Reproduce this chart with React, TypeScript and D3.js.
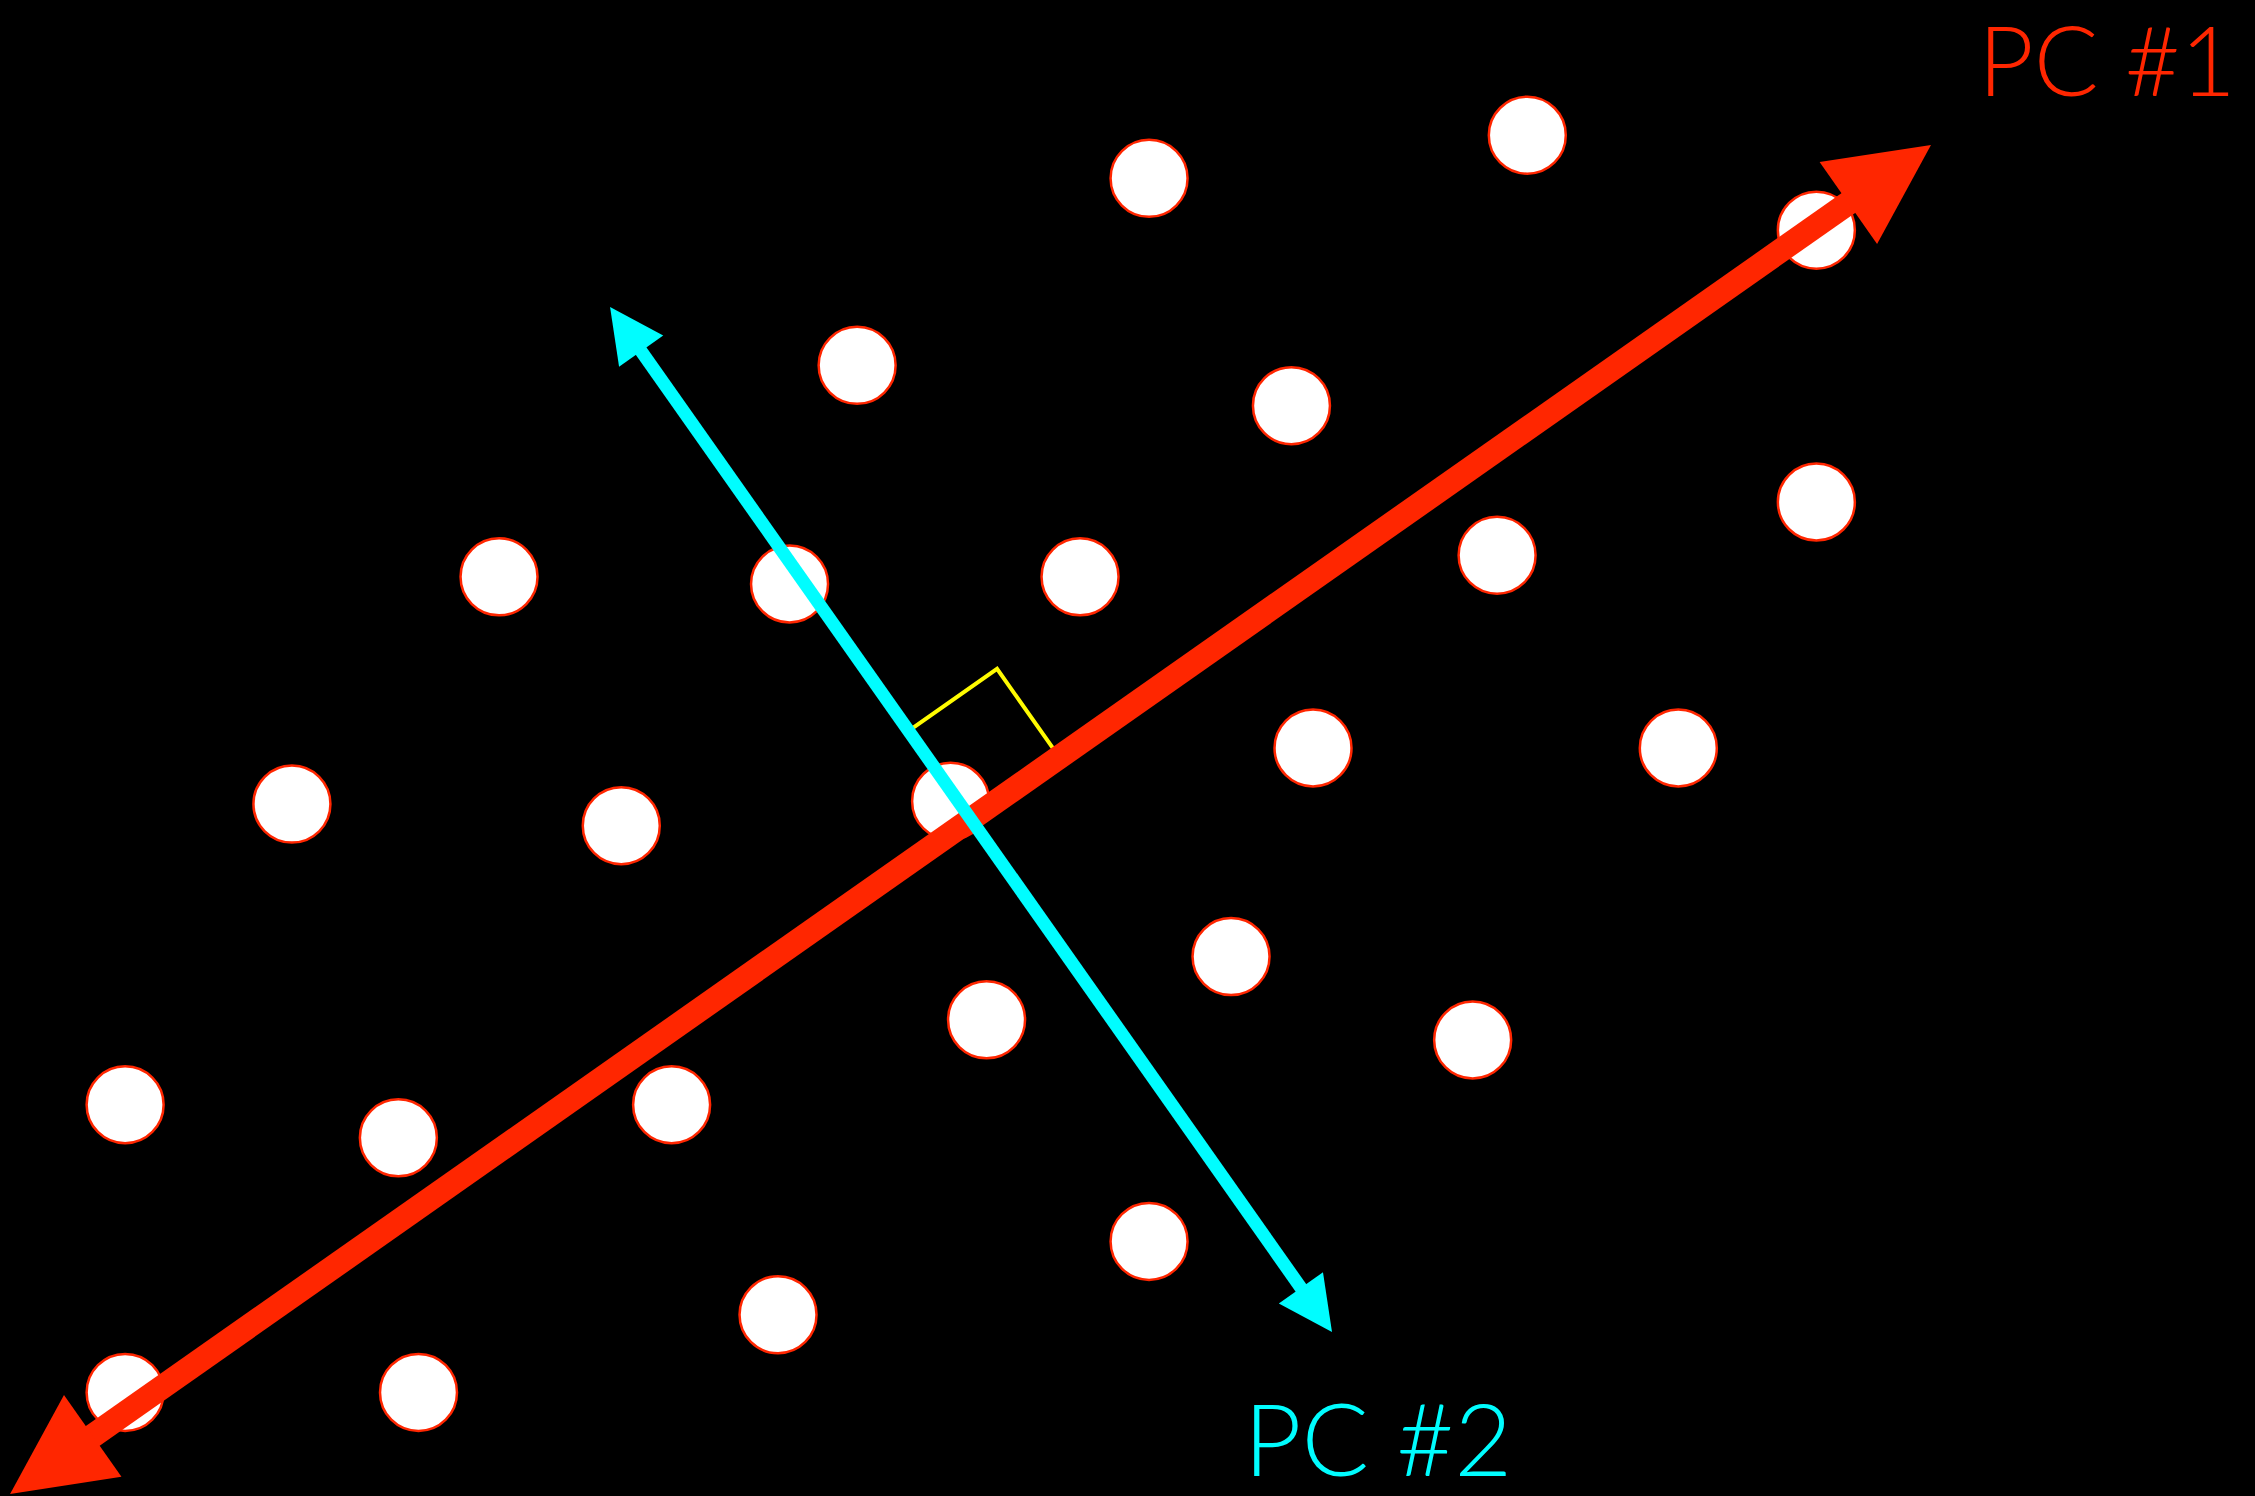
import React from "react";
import * as d3 from "d3";

// Sample points (feature 1, feature 2)
const sampleX = [7.99, 10.62, 12.63, 5.96, 8.98, 3.47, 5.49, 7.51, 10.41, 12.63, 2.03, 4.32, 6.61, 9.13, 11.67, 8.56, 6.86, 10.24, 0.87, 2.77, 4.67, 7.99, 5.41, 0.87, 2.91];
const sampleY = [9.16, 9.46, 8.80, 7.86, 7.58, 6.39, 6.34, 6.39, 6.54, 6.91, 4.81, 4.66, 4.83, 5.20, 5.20, 3.75, 3.31, 3.17, 2.72, 2.49, 2.72, 1.77, 1.26, 0.72, 0.72];

// Principal component axes: [start, end] in data units
const pcNames = ["PC #1", "PC #2"];
const pcStartX = [0.07, 4.242];
const pcStartY = [0.014, 8.266];
const pcEndX = [13.427, 9.262];
const pcEndY = [9.392, 1.14];

const W = 2255;
const H = 1496;
const RED = "#ff2600";
const CYAN = "#00fdff";
const YELLOW = "#fffb00";

export default function App() {
  const x = d3.scaleLinear().domain([0, 15.68]).range([0, W]);
  const y = d3.scaleLinear().domain([0, 10.4]).range([H, 0]);

  const axisGeom = pcNames.map((name, i) => {
    const x1 = x(pcStartX[i]);
    const y1 = y(pcStartY[i]);
    const x2 = x(pcEndX[i]);
    const y2 = y(pcEndY[i]);
    const len = Math.hypot(x2 - x1, y2 - y1);
    const ux = (x2 - x1) / len;
    const uy = (y2 - y1) / len;
    return { x1, y1, x2, y2, ux, uy };
  });

  const arrow = (
    g: { x1: number; y1: number; x2: number; y2: number; ux: number; uy: number },
    headLen: number,
    headHalf: number,
    width: number,
    color: string
  ) => {
    const { x1, y1, x2, y2, ux, uy } = g;
    const nx = -uy;
    const ny = ux;
    const head = (tx: number, ty: number, dx: number, dy: number) => {
      const bx = tx - dx * headLen;
      const by = ty - dy * headLen;
      return [
        [tx, ty],
        [bx + nx * headHalf, by + ny * headHalf],
        [bx - nx * headHalf, by - ny * headHalf],
      ]
        .map((p) => p.join(","))
        .join(" ");
    };
    const inset = headLen * 0.6;
    return (
      <g>
        <line
          x1={x1 + ux * inset}
          y1={y1 + uy * inset}
          x2={x2 - ux * inset}
          y2={y2 - uy * inset}
          stroke={color}
          strokeWidth={width}
        />
        <polygon points={head(x2, y2, ux, uy)} fill={color} />
        <polygon points={head(x1, y1, -ux, -uy)} fill={color} />
      </g>
    );
  };

  // Intersection of the two axes
  const a = axisGeom[0];
  const b = axisGeom[1];
  const det = a.ux * -b.uy - a.uy * -b.ux;
  const t = ((b.x1 - a.x1) * -b.uy - (b.y1 - a.y1) * -b.ux) / det;
  const cx = a.x1 + a.ux * t;
  const cy = a.y1 + a.uy * t;
  const sq = 108;
  const p1x = cx + a.ux * sq;
  const p1y = cy + a.uy * sq;
  const p2x = cx - b.ux * sq;
  const p2y = cy - b.uy * sq;
  const qx = p1x - b.ux * sq;
  const qy = p1y - b.uy * sq;

  return (
    <svg
      width={W}
      height={H}
      style={{ position: "absolute", left: 0, top: 0, background: "#000" }}
      fontFamily="Lato, 'Open Sans', sans-serif"
    >
      <rect x={0} y={0} width={W} height={H} fill="#000" />
      {sampleX.map((v, i) => (
        <circle
          key={i}
          cx={x(v)}
          cy={y(sampleY[i])}
          r={38.5}
          fill="#fff"
          stroke={RED}
          strokeWidth={2.5}
        />
      ))}
      <polyline
        points={`${p2x},${p2y} ${qx},${qy} ${p1x},${p1y}`}
        fill="none"
        stroke={YELLOW}
        strokeWidth={4}
      />
      {arrow(axisGeom[0], 101, 50, 24, RED)}
      {arrow(axisGeom[1], 54, 27, 13, CYAN)}
      <text
        x={2236}
        y={96}
        fill={RED}
        fontSize={96}
        fontWeight={300}
        textAnchor="end"
      >
        {pcNames[0]}
      </text>
      <text
        x={1378}
        y={1476}
        fill={CYAN}
        fontSize={100}
        fontWeight={300}
        textAnchor="middle"
      >
        {pcNames[1]}
      </text>
    </svg>
  );
}
